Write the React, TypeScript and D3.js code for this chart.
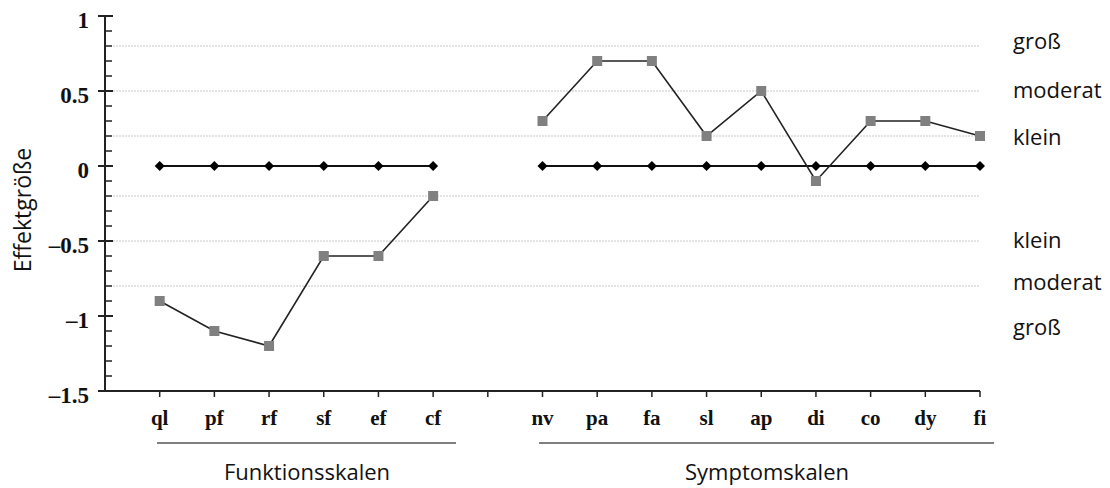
import React from "react";
import * as d3 from "d3";

const funktionsCats = ["ql", "pf", "rf", "sf", "ef", "cf"];
const symptomCats = ["nv", "pa", "fa", "sl", "ap", "di", "co", "dy", "fi"];
const funktionsValues = [-0.9, -1.1, -1.2, -0.6, -0.6, -0.2];
const symptomValues = [0.3, 0.7, 0.7, 0.2, 0.5, -0.1, 0.3, 0.3, 0.2];
const referenceValue = 0;
const yMajorTicks = [1, 0.5, 0, -0.5, -1, -1.5];
const gridValues = [0.8, 0.5, 0.2, -0.2, -0.5, -0.8];
const effectLabels = [
  { v: 0.83, t: "groß" },
  { v: 0.5, t: "moderat" },
  { v: 0.19, t: "klein" },
  { v: -0.5, t: "klein" },
  { v: -0.78, t: "moderat" },
  { v: -1.08, t: "groß" },
];

const W = 1110;
const H = 488;
const x0 = 105;
const xEnd = 980;

export default function App() {
  const y = d3.scaleLinear().domain([-1.5, 1]).range([391, 16]);
  // index 0 = origin, 1..6 funktions, 7 gap, 8..16 symptom
  const x = d3.scaleLinear().domain([0, 16]).range([x0, xEnd]);
  const fIdx = funktionsCats.map((_, i) => i + 1);
  const sIdx = symptomCats.map((_, i) => i + 8);
  const minor = d3.range(-15, 11).map((d) => d / 10);
  const line = d3
    .line<[number, number]>()
    .x((d) => x(d[0]))
    .y((d) => y(d[1]));
  const fPts: [number, number][] = fIdx.map((ix, i) => [ix, funktionsValues[i]]);
  const sPts: [number, number][] = sIdx.map((ix, i) => [ix, symptomValues[i]]);
  const fRef: [number, number][] = fIdx.map((ix) => [ix, referenceValue]);
  const sRef: [number, number][] = sIdx.map((ix) => [ix, referenceValue]);
  const serif = "'Liberation Serif', 'Times New Roman', serif";
  const sans = "'Open Sans', 'Noto Sans', sans-serif";
  const fmt = (v: number) => (v < 0 ? "–" + String(Math.abs(v)) : String(v));
  const diamond = d3.symbol().type(d3.symbolSquare).size(50)();

  return (
    <svg width={W} height={H} style={{ position: "absolute", left: 0, top: 0 }}>
      <rect width={W} height={H} fill="#fff" />
      {gridValues.map((g) => (
        <line
          key={g}
          x1={113}
          x2={xEnd}
          y1={y(g)}
          y2={y(g)}
          stroke="#c8c8c8"
          strokeWidth={1}
          strokeDasharray="2,1"
        />
      ))}
      {/* y axis */}
      <line x1={x0} x2={x0} y1={y(1)} y2={y(-1.5)} stroke="#222" strokeWidth={2} />
      {minor.map((m) => (
        <line key={m} x1={x0} x2={x0 + 7} y1={y(m)} y2={y(m)} stroke="#222" strokeWidth={1.5} />
      ))}
      {yMajorTicks.map((t) => (
        <g key={t}>
          <line x1={x0 - 7} x2={x0 + 8} y1={y(t)} y2={y(t)} stroke="#222" strokeWidth={2} />
          <text
            x={89}
            y={y(t) + 12}
            textAnchor="end"
            fontFamily={serif}
            fontWeight="bold"
            fontSize={23}
            fill="#111"
          >
            {fmt(t)}
          </text>
        </g>
      ))}
      {/* x axis */}
      <line x1={x0} x2={xEnd} y1={y(-1.5)} y2={y(-1.5)} stroke="#222" strokeWidth={2} />
      {d3.range(1, 17).map((i) => (
        <line key={i} x1={x(i)} x2={x(i)} y1={y(-1.5)} y2={y(-1.5) + 6} stroke="#222" strokeWidth={1.5} />
      ))}
      {funktionsCats.map((c, i) => (
        <text key={c} x={x(fIdx[i])} y={425} textAnchor="middle" fontFamily={serif} fontWeight="bold" fontSize={21} fill="#111">
          {c}
        </text>
      ))}
      {symptomCats.map((c, i) => (
        <text key={c} x={x(sIdx[i])} y={425} textAnchor="middle" fontFamily={serif} fontWeight="bold" fontSize={21} fill="#111">
          {c}
        </text>
      ))}
      {/* group brackets */}
      <line x1={157} x2={456} y1={443} y2={443} stroke="#555" strokeWidth={1.5} />
      <line x1={539} x2={994} y1={443} y2={443} stroke="#555" strokeWidth={1.5} />
      <text x={307} y={480} textAnchor="middle" fontFamily={sans} fontSize={22} fill="#111">
        Funktionsskalen
      </text>
      <text x={767} y={480} textAnchor="middle" fontFamily={sans} fontSize={22} fill="#111">
        Symptomskalen
      </text>
      {/* y label */}
      <text
        transform={`translate(31,210) rotate(-90)`}
        textAnchor="middle"
        fontFamily={sans}
        fontSize={23}
        fill="#111"
      >
        Effektgröße
      </text>
      {/* effect size labels */}
      {effectLabels.map((l, i) => (
        <text key={i} x={1013} y={y(l.v) + 7} fontFamily={sans} fontSize={22} fill="#111">
          {l.t}
        </text>
      ))}
      {/* reference lines */}
      <path d={line(fRef) || ""} fill="none" stroke="#111" strokeWidth={2} />
      <path d={line(sRef) || ""} fill="none" stroke="#111" strokeWidth={2} />
      {[...fRef, ...sRef].map((p, i) => (
        <path
          key={i}
          d={diamond || ""}
          transform={`translate(${x(p[0])},${y(p[1])}) rotate(45)`}
          fill="#000"
        />
      ))}
      {/* series */}
      <path d={line(fPts) || ""} fill="none" stroke="#222" strokeWidth={1.6} />
      <path d={line(sPts) || ""} fill="none" stroke="#222" strokeWidth={1.6} />
      {[...fPts, ...sPts].map((p, i) => (
        <rect key={i} x={x(p[0]) - 5} y={y(p[1]) - 5} width={10} height={10} fill="#808080" />
      ))}
    </svg>
  );
}
